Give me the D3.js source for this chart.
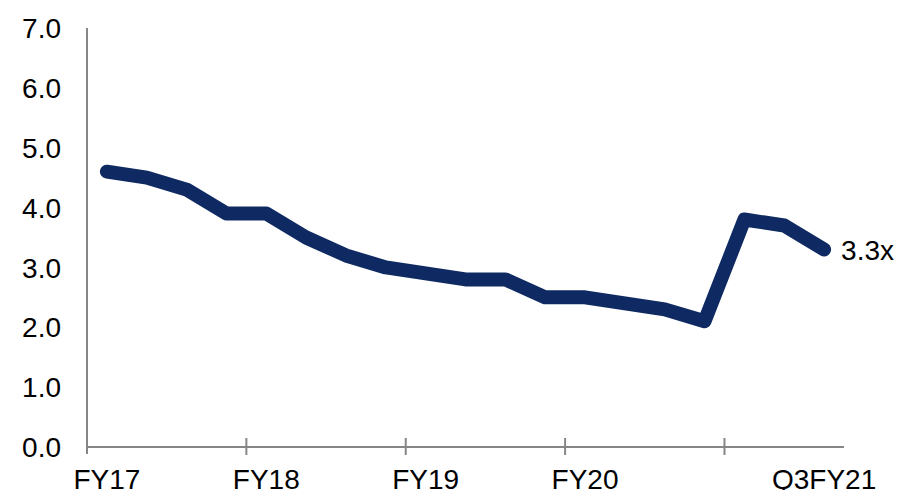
<!DOCTYPE html>
<html>
<head>
<meta charset="utf-8">
<script src="https://cdn.jsdelivr.net/npm/d3@7"></script>
<style>
  body { margin: 0; background: #fff; }
  text { font-family: "Liberation Sans", Arial, sans-serif; fill: #000; }
</style>
</head>
<body>
<div id="chart"></div>
<script>
// Quarterly values, FY17 Q1 .. Q3FY21
const quarters = ['Q1FY17', 'Q2FY17', 'Q3FY17', 'Q4FY17',
                  'Q1FY18', 'Q2FY18', 'Q3FY18', 'Q4FY18',
                  'Q1FY19', 'Q2FY19', 'Q3FY19', 'Q4FY19',
                  'Q1FY20', 'Q2FY20', 'Q3FY20', 'Q4FY20',
                  'Q1FY21', 'Q2FY21', 'Q3FY21'];
const values = [4.6, 4.5, 4.3, 3.9, 3.9, 3.5, 3.2, 3.0, 2.9, 2.8, 2.8, 2.5,
                2.5, 2.4, 2.3, 2.1, 3.8, 3.7, 3.3];
const xLabels = ['FY17', '', '', '', 'FY18', '', '', '', 'FY19', '', '', '',
                 'FY20', '', '', '', '', '', 'Q3FY21'];
const yTicks = [0, 1, 2, 3, 4, 5, 6, 7];
const endLabel = '3.3x';

const width = 899, height = 490;
const margin = { top: 28, right: 55, bottom: 43, left: 87 };

const svg = d3.select('#chart').append('svg')
    .attr('width', width)
    .attr('height', height);

const x = d3.scaleBand()
    .domain(quarters)
    .range([margin.left, width - margin.right])
    .paddingInner(0).paddingOuter(0);

const y = d3.scaleLinear()
    .domain([0, 7])
    .range([height - margin.bottom, margin.top]);

const axisColor = '#868686';
const y0 = y(0);

// y axis line + labels (no tick marks)
svg.append('line')
    .attr('x1', margin.left).attr('x2', margin.left)
    .attr('y1', y(7)).attr('y2', y0 + 7)
    .attr('stroke', axisColor).attr('stroke-width', 2);

svg.selectAll('.ylab')
    .data(yTicks)
    .enter().append('text')
    .attr('class', 'ylab')
    .attr('x', 61)
    .attr('y', d => y(d))
    .attr('dy', '0.36em')
    .attr('text-anchor', 'end')
    .style('font-size', '28px')
    .text(d => d.toFixed(1));

// x axis line
svg.append('line')
    .attr('x1', margin.left).attr('x2', width - margin.right)
    .attr('y1', y0).attr('y2', y0)
    .attr('stroke', axisColor).attr('stroke-width', 2);

// tick marks every 4 quarters at category boundaries
const tickIdx = [4, 8, 12, 16];
svg.selectAll('.xtick')
    .data(tickIdx)
    .enter().append('line')
    .attr('class', 'xtick')
    .attr('x1', d => x(quarters[d])).attr('x2', d => x(quarters[d]))
    .attr('y1', y0 - 9).attr('y2', y0 + 8)
    .attr('stroke', axisColor).attr('stroke-width', 2);

svg.selectAll('.xlab')
    .data(quarters)
    .enter().append('text')
    .attr('class', 'xlab')
    .attr('x', d => x(d) + x.bandwidth() / 2)
    .attr('y', 489)
    .attr('text-anchor', 'middle')
    .style('font-size', '28px')
    .text((d, i) => xLabels[i]);

// the line
const line = d3.line()
    .x((d, i) => x(quarters[i]) + x.bandwidth() / 2)
    .y(d => y(d));

svg.append('path')
    .datum(values)
    .attr('d', line)
    .attr('fill', 'none')
    .attr('stroke', '#0f2a62')
    .attr('stroke-width', 14)
    .attr('stroke-linecap', 'round')
    .attr('stroke-linejoin', 'round');

const last = values.length - 1;
svg.append('text')
    .attr('x', x(quarters[last]) + x.bandwidth() / 2 + 17)
    .attr('y', y(values[last]))
    .attr('dy', '0.36em')
    .style('font-size', '28px')
    .text(endLabel);
</script>
</body>
</html>
